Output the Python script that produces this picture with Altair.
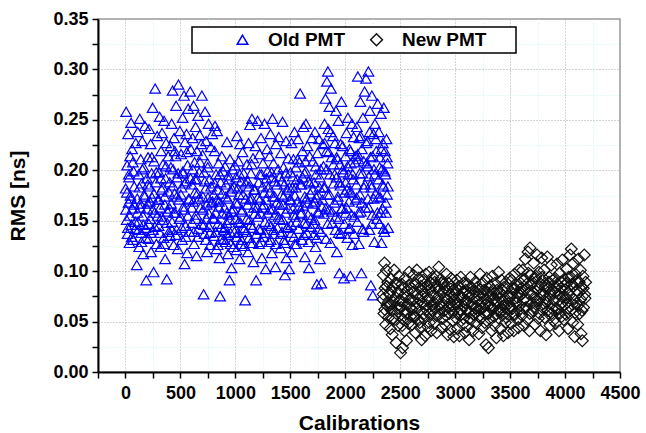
import altair as alt
import pandas as pd

# ---- Old PMT (blue triangles) ----
old_x = [
    2, 6, 11, 15, 19, 24, 28, 33, 37, 42, 46, 51, 55, 60, 64, 69, 74, 80, 87, 94,
    103, 107, 112, 116, 121, 125, 130, 134, 139, 143, 148, 152, 157, 161, 166, 171, 177, 183, 189, 195,
    202, 206, 211, 215, 220, 224, 229, 233, 238, 242, 247, 251, 256, 261, 265, 270, 276, 282, 289, 295,
    302, 306, 311, 315, 320, 324, 329, 333, 338, 342, 347, 351, 356, 361, 365, 370, 376, 382, 389, 395,
    402, 406, 411, 415, 420, 424, 429, 433, 438, 442, 447, 451, 456, 461, 465, 470, 476, 482, 489, 495,
    502, 506, 511, 515, 520, 524, 529, 533, 538, 542, 547, 551, 556, 561, 565, 570, 576, 582, 589, 595,
    602, 606, 611, 615, 620, 624, 629, 633, 638, 642, 647, 651, 656, 661, 665, 670, 676, 682, 689, 695,
    702, 706, 711, 715, 720, 724, 729, 733, 738, 742, 747, 751, 756, 761, 765, 770, 776, 782, 789, 795,
    802, 806, 811, 815, 820, 824, 829, 833, 838, 842, 847, 851, 856, 861, 865, 870, 876, 882, 889, 895,
    902, 906, 911, 915, 920, 924, 929, 933, 938, 942, 947, 951, 956, 961, 965, 970, 976, 982, 989, 995,
    1002, 1006, 1011, 1015, 1020, 1024, 1029, 1033, 1038, 1042, 1047, 1051, 1056, 1061, 1065, 1070, 1076, 1082, 1089, 1095,
    1102, 1106, 1111, 1115, 1120, 1124, 1129, 1133, 1138, 1142, 1147, 1151, 1156, 1161, 1165, 1170, 1176, 1182, 1189, 1195,
    1202, 1206, 1211, 1215, 1220, 1224, 1229, 1233, 1238, 1242, 1247, 1251, 1256, 1261, 1265, 1270, 1276, 1282, 1289, 1295,
    1302, 1306, 1311, 1315, 1320, 1324, 1329, 1333, 1338, 1342, 1347, 1351, 1356, 1361, 1365, 1370, 1376, 1382, 1389, 1395,
    1402, 1406, 1411, 1415, 1420, 1424, 1429, 1433, 1438, 1442, 1447, 1451, 1456, 1461, 1465, 1470, 1476, 1482, 1489, 1495,
    1502, 1506, 1511, 1515, 1520, 1524, 1529, 1533, 1538, 1542, 1547, 1551, 1556, 1561, 1565, 1570, 1576, 1582, 1589, 1595,
    1602, 1606, 1611, 1615, 1620, 1624, 1629, 1633, 1638, 1642, 1647, 1651, 1656, 1661, 1665, 1670, 1676, 1682, 1689, 1695,
    1702, 1706, 1711, 1715, 1720, 1724, 1729, 1733, 1738, 1742, 1747, 1751, 1756, 1761, 1765, 1770, 1776, 1782, 1789, 1795,
    1802, 1806, 1811, 1815, 1820, 1824, 1829, 1833, 1838, 1842, 1847, 1851, 1856, 1861, 1865, 1870, 1876, 1882, 1889, 1895,
    1902, 1906, 1911, 1915, 1920, 1924, 1929, 1933, 1938, 1942, 1947, 1951, 1956, 1961, 1965, 1970, 1976, 1982, 1989, 1995,
    2002, 2006, 2011, 2015, 2020, 2024, 2029, 2033, 2038, 2042, 2047, 2051, 2056, 2061, 2065, 2070, 2076, 2082, 2089, 2095,
    2102, 2106, 2111, 2115, 2120, 2124, 2129, 2133, 2138, 2142, 2147, 2151, 2156, 2161, 2165, 2170, 2176, 2182, 2189, 2195,
    2202, 2206, 2211, 2215, 2220, 2224, 2229, 2233, 2238, 2242, 2247, 2251, 2256, 2261, 2265, 2270, 2276, 2282, 2289, 2295,
    2302, 2306, 2311, 2315, 2320, 2324, 2329, 2333, 2338, 2342, 2347, 2351, 2356, 2361, 2365, 2370, 2375, 2380, 2385, 2390,
]
old_y = [
    .182, .258, .151, .205, .137, .236, .168, .193, .128, .214, .175, .247, .146, .221, .162, .131, .199, .184, .142, .227,
    .106, .172, .238, .149, .196, .124, .251, .163, .211, .138, .187, .229, .155, .117, .203, .176, .244, .143, .091, .192,
    .167, .213, .132, .241, .184, .152, .226, .119, .197, .173, .262, .141, .099, .209, .158, .281, .188, .127, .234, .171,
    .145, .198, .253, .163, .124, .219, .181, .237, .151, .206, .133, .249, .174, .112, .192, .227, .092, .159, .214, .139,
    .188, .135, .224, .167, .246, .149, .279, .201, .126, .232, .177, .158, .214, .264, .141, .193, .122, .285, .171, .239,
    .154, .216, .183, .131, .252, .197, .164, .274, .107, .228, .145, .189, .236, .118, .205, .261, .172, .139, .278, .221,
    .186, .148, .232, .169, .264, .127, .208, .191, .243, .156, .115, .219, .177, .254, .142, .198, .235, .163, .226, .274,
    .215, .161, .077, .198, .137, .258, .182, .229, .152, .119, .207, .173, .246, .144, .191, .126, .223, .168, .236, .153,
    .176, .135, .219, .244, .158, .196, .122, .239, .181, .147, .207, .169, .113, .075, .188, .132, .214, .157, .199, .141,
    .163, .204, .129, .186, .148, .228, .172, .117, .195, .156, .091, .211, .138, .179, .103, .159, .201, .124, .184, .205,
    .152, .193, .121, .234, .167, .138, .209, .176, .112, .226, .148, .189, .131, .161, .218, .143, .197, .125, .071, .172,
    .139, .206, .166, .119, .227, .184, .151, .245, .128, .197, .172, .251, .143, .212, .109, .181, .157, .224, .091, .163,
    .249, .154, .188, .127, .216, .171, .141, .232, .196, .113, .163, .207, .134, .178, .246, .149, .102, .192, .221, .158,
    .183, .129, .214, .161, .236, .145, .198, .118, .251, .174, .207, .137, .189, .156, .104, .226, .168, .143, .201, .233,
    .152, .194, .123, .217, .176, .139, .248, .166, .203, .131, .186, .096, .158, .229, .113, .181, .144, .212, .102, .171,
    .198, .146, .227, .119, .183, .162, .211, .134, .238, .175, .154, .203, .127, .191, .169, .231, .142, .208, .276, .157,
    .186, .131, .219, .165, .243, .148, .197, .114, .209, .246, .172, .138, .224, .156, .189, .103, .214, .177, .144, .232,
    .167, .209, .136, .188, .151, .238, .124, .196, .173, .087, .217, .159, .142, .231, .183, .112, .201, .088, .164, .226,
    .204, .157, .246, .183, .271, .132, .219, .288, .176, .298, .241, .161, .263, .196, .128, .281, .213, .148, .234, .187,
    .168, .227, .141, .259, .193, .119, .211, .174, .249, .152, .098, .206, .185, .137, .268, .162, .224, .198, .093, .178,
    .214, .158, .237, .181, .133, .252, .196, .169, .221, .143, .095, .207, .178, .246, .126, .191, .233, .154, .208, .171,
    .186, .243, .149, .293, .211, .127, .232, .176, .268, .159, .098, .221, .197, .252, .139, .183, .278, .163, .291, .207,
    .229, .172, .298, .194, .141, .259, .213, .086, .183, .274, .156, .076, .236, .201, .129, .246, .177, .219, .152, .266,
    .191, .238, .147, .213, .173, .256, .128, .201, .162, .227, .184, .262, .139, .219, .196, .158, .231, .176, .207, .143,
]

# Old PMT, further points in the dense core of the band
old_x2 = [
    4, 13, 22, 31, 40, 49, 58, 67, 77, 90,
    109, 118, 127, 136, 145, 154, 163, 174, 186, 198,
    204, 213, 222, 231, 240, 249, 258, 268, 279, 292,
    304, 313, 322, 331, 340, 349, 358, 368, 379, 392,
    404, 413, 422, 431, 440, 449, 458, 468, 479, 492,
    504, 513, 522, 531, 540, 549, 558, 568, 579, 592,
    604, 613, 622, 631, 640, 649, 658, 668, 679, 692,
    704, 713, 722, 731, 740, 749, 758, 768, 779, 792,
    804, 813, 822, 831, 840, 849, 858, 868, 879, 892,
    904, 913, 922, 931, 940, 949, 958, 968, 979, 992,
    1004, 1013, 1022, 1031, 1040, 1049, 1058, 1068, 1079, 1092,
    1104, 1113, 1122, 1131, 1140, 1149, 1158, 1168, 1179, 1192,
    1204, 1213, 1222, 1231, 1240, 1249, 1258, 1268, 1279, 1292,
    1304, 1313, 1322, 1331, 1340, 1349, 1358, 1368, 1379, 1392,
    1404, 1413, 1422, 1431, 1440, 1449, 1458, 1468, 1479, 1492,
    1504, 1513, 1522, 1531, 1540, 1549, 1558, 1568, 1579, 1592,
    1604, 1613, 1622, 1631, 1640, 1649, 1658, 1668, 1679, 1692,
    1704, 1713, 1722, 1731, 1740, 1749, 1758, 1768, 1779, 1792,
    1804, 1813, 1822, 1831, 1840, 1849, 1858, 1868, 1879, 1892,
    1904, 1913, 1922, 1931, 1940, 1949, 1958, 1968, 1979, 1992,
    2004, 2013, 2022, 2031, 2040, 2049, 2058, 2068, 2079, 2092,
    2104, 2113, 2122, 2131, 2140, 2149, 2158, 2168, 2179, 2192,
    2204, 2213, 2222, 2231, 2240, 2249, 2258, 2268, 2279, 2292,
    2304, 2313, 2322, 2331, 2340, 2349, 2358, 2368, 2378, 2388,
]
old_y2 = [
    .161, .178, .143, .196, .155, .172, .134, .208, .166, .149,
    .158, .141, .183, .167, .129, .201, .146, .174, .133, .162,
    .186, .147, .169, .138, .213, .161, .177, .144, .198, .155,
    .171, .138, .192, .154, .183, .127, .166, .204, .148, .179,
    .162, .203, .141, .185, .158, .219, .136, .174, .197, .152,
    .176, .143, .199, .161, .187, .134, .218, .155, .171, .192,
    .163, .201, .139, .178, .152, .191, .134, .172, .208, .147,
    .174, .146, .189, .131, .166, .203, .157, .138, .184, .169,
    .152, .187, .139, .171, .126, .164, .196, .144, .177, .131,
    .143, .174, .158, .136, .191, .151, .127, .182, .162, .139,
    .168, .134, .182, .149, .196, .127, .159, .176, .141, .187,
    .152, .189, .133, .171, .146, .206, .128, .163, .181, .137,
    .173, .142, .196, .157, .129, .184, .166, .138, .171, .199,
    .147, .178, .131, .193, .162, .141, .174, .127, .186, .154,
    .166, .137, .189, .151, .174, .128, .197, .143, .162, .183,
    .171, .138, .194, .156, .127, .183, .149, .211, .164, .186,
    .158, .193, .136, .174, .199, .147, .168, .129, .187, .153,
    .181, .147, .169, .204, .133, .176, .158, .193, .139, .171,
    .183, .227, .162, .201, .147, .218, .176, .238, .159, .206,
    .196, .154, .213, .171, .138, .188, .226, .162, .201, .147,
    .188, .163, .204, .142, .179, .219, .156, .196, .137, .214,
    .173, .216, .158, .197, .234, .168, .142, .209, .186, .227,
    .204, .163, .238, .186, .147, .214, .172, .196, .231, .158,
    .174, .203, .158, .221, .186, .142, .199, .168, .213, .184,
]

# ---- New PMT (black diamonds) ----
new_x = [
    2342, 2347, 2352, 2357, 2362, 2368, 2374, 2380, 2387, 2394,
    2403, 2409, 2415, 2421, 2427, 2433, 2439, 2445, 2451, 2457, 2463, 2469, 2475, 2481, 2488, 2495,
    2503, 2509, 2515, 2521, 2527, 2533, 2539, 2545, 2551, 2557, 2563, 2569, 2575, 2581, 2588, 2595,
    2603, 2609, 2615, 2621, 2627, 2633, 2639, 2645, 2651, 2657, 2663, 2669, 2675, 2681, 2688, 2695,
    2703, 2709, 2715, 2721, 2727, 2733, 2739, 2745, 2751, 2757, 2763, 2769, 2775, 2781, 2788, 2795,
    2803, 2809, 2815, 2821, 2827, 2833, 2839, 2845, 2851, 2857, 2863, 2869, 2875, 2881, 2888, 2895,
    2903, 2909, 2915, 2921, 2927, 2933, 2939, 2945, 2951, 2957, 2963, 2969, 2975, 2981, 2988, 2995,
    3003, 3009, 3015, 3021, 3027, 3033, 3039, 3045, 3051, 3057, 3063, 3069, 3075, 3081, 3088, 3095,
    3103, 3109, 3115, 3121, 3127, 3133, 3139, 3145, 3151, 3157, 3163, 3169, 3175, 3181, 3188, 3195,
    3203, 3209, 3215, 3221, 3227, 3233, 3239, 3245, 3251, 3257, 3263, 3269, 3275, 3281, 3288, 3295,
    3303, 3309, 3315, 3321, 3327, 3333, 3339, 3345, 3351, 3357, 3363, 3369, 3375, 3381, 3388, 3395,
    3403, 3409, 3415, 3421, 3427, 3433, 3439, 3445, 3451, 3457, 3463, 3469, 3475, 3481, 3488, 3495,
    3503, 3509, 3515, 3521, 3527, 3533, 3539, 3545, 3551, 3557, 3563, 3569, 3575, 3581, 3588, 3595,
    3603, 3609, 3615, 3621, 3627, 3633, 3639, 3645, 3651, 3657, 3663, 3669, 3675, 3681, 3688, 3695,
    3703, 3709, 3715, 3721, 3727, 3733, 3739, 3745, 3751, 3757, 3763, 3769, 3775, 3781, 3788, 3795,
    3803, 3809, 3815, 3821, 3827, 3833, 3839, 3845, 3851, 3857, 3863, 3869, 3875, 3881, 3888, 3895,
    3903, 3909, 3915, 3921, 3927, 3933, 3939, 3945, 3951, 3957, 3963, 3969, 3975, 3981, 3988, 3995,
    4003, 4009, 4015, 4021, 4027, 4033, 4039, 4045, 4051, 4057, 4063, 4069, 4075, 4081, 4088, 4095,
    4103, 4109, 4115, 4121, 4127, 4133, 4139, 4145, 4151, 4157, 4163, 4169, 4175, 4181, 4187,
]
new_y = [
    .072, .096, .058, .108, .083, .047, .101, .066, .089, .054,
    .078, .043, .092, .061, .037, .084, .069, .101, .052, .074, .029, .088, .063, .046, .095, .071,
    .019, .064, .087, .024, .052, .076, .041, .093, .058, .031, .081, .067, .048, .099, .072, .055,
    .083, .047, .071, .096, .056, .088, .039, .064, .101, .077, .051, .093, .061, .044, .085, .032,
    .068, .091, .053, .079, .036, .097, .062, .086, .045, .073, .099, .057, .082, .041, .066, .094,
    .076, .048, .089, .063, .095, .039, .071, .084, .104, .057, .067, .092, .044, .079, .053, .087,
    .061, .083, .046, .097, .071, .037, .088, .058, .076, .042, .093, .066, .051, .081, .035, .072,
    .054, .079, .091, .043, .068, .085, .036, .062, .094, .057, .074, .047, .088, .065, .039, .081,
    .071, .045, .087, .059, .032, .078, .094, .052, .066, .083, .041, .073, .057, .089, .063, .048,
    .084, .061, .038, .076, .097, .053, .069, .044, .088, .064, .081, .049, .072, .027, .093, .058,
    .024, .067, .085, .052, .078, .041, .095, .063, .072, .046, .088, .057, .034, .081, .069, .099,
    .062, .079, .043, .091, .056, .071, .036, .084, .064, .049, .089, .058, .075, .039, .068, .093,
    .074, .048, .091, .063, .082, .041, .097, .057, .069, .086, .052, .078, .044, .101, .066, .088,
    .083, .056, .101, .071, .046, .092, .112, .064, .087, .052, .119, .078, .041, .123, .096, .068,
    .089, .061, .108, .074, .047, .095, .067, .116, .082, .053, .099, .072, .041, .087, .113, .064,
    .077, .101, .054, .088, .037, .069, .114, .083, .058, .094, .046, .079, .106, .063, .091, .051,
    .071, .093, .048, .084, .107, .062, .077, .041, .098, .067, .089, .055, .111, .074, .052, .086,
    .081, .057, .102, .069, .043, .094, .076, .116, .061, .122, .087, .049, .108, .072, .035, .097,
    .068, .091, .047, .112, .079, .058, .101, .038, .084, .031, .095, .064, .116, .073, .089,
]

# New PMT, further points in the dense core of the band
new_x2 = [
    2345, 2360, 2377, 2391,
    2406, 2418, 2430, 2442, 2454, 2466, 2478, 2492,
    2506, 2518, 2530, 2542, 2554, 2566, 2578, 2592,
    2606, 2618, 2630, 2642, 2654, 2666, 2678, 2692,
    2706, 2718, 2730, 2742, 2754, 2766, 2778, 2792,
    2806, 2818, 2830, 2842, 2854, 2866, 2878, 2892,
    2906, 2918, 2930, 2942, 2954, 2966, 2978, 2992,
    3006, 3018, 3030, 3042, 3054, 3066, 3078, 3092,
    3106, 3118, 3130, 3142, 3154, 3166, 3178, 3192,
    3206, 3218, 3230, 3242, 3254, 3266, 3278, 3292,
    3306, 3318, 3330, 3342, 3354, 3366, 3378, 3392,
    3406, 3418, 3430, 3442, 3454, 3466, 3478, 3492,
    3506, 3518, 3530, 3542, 3554, 3566, 3578, 3592,
    3606, 3618, 3630, 3642, 3654, 3666, 3678, 3692,
    3706, 3718, 3730, 3742, 3754, 3766, 3778, 3792,
    3806, 3818, 3830, 3842, 3854, 3866, 3878, 3892,
    3906, 3918, 3930, 3942, 3954, 3966, 3978, 3992,
    4006, 4018, 4030, 4042, 4054, 4066, 4078, 4092,
    4106, 4118, 4130, 4142, 4154, 4166, 4178,
]
new_y2 = [
    .077, .062, .085, .069,
    .066, .081, .053, .072, .088, .058, .079, .063,
    .071, .046, .083, .061, .074, .052, .086, .064,
    .062, .079, .054, .087, .068, .073, .049, .081,
    .075, .058, .084, .066, .071, .049, .088, .061,
    .069, .083, .056, .074, .081, .062, .088, .067,
    .073, .056, .081, .064, .069, .085, .059, .077,
    .067, .082, .058, .074, .061, .079, .053, .069,
    .062, .076, .053, .084, .068, .057, .079, .065,
    .071, .055, .082, .063, .076, .058, .067, .079,
    .058, .074, .063, .081, .055, .069, .077, .061,
    .073, .059, .081, .066, .071, .054, .083, .063,
    .064, .078, .057, .083, .069, .074, .061, .079,
    .077, .091, .063, .082, .071, .098, .058, .086,
    .079, .064, .093, .071, .086, .058, .077, .094,
    .068, .084, .073, .061, .089, .076, .058, .081,
    .079, .063, .087, .071, .058, .083, .069, .092,
    .074, .088, .063, .081, .094, .067, .085, .059,
    .081, .066, .089, .072, .061, .083, .077,
]

series_names = ["Old PMT", "New PMT"]
series_colors = ["#0000ff", "#111111"]
series_shapes = ["triangle-up", "diamond"]
series_sizes = [112, 140]

x_ticks = [-250, 0, 250, 500, 750, 1000, 1250, 1500, 1750, 2000, 2250,
           2500, 2750, 3000, 3250, 3500, 3750, 4000, 4250, 4500]
y_ticks = [0.0, 0.025, 0.05, 0.075, 0.1, 0.125, 0.15, 0.175, 0.2,
           0.225, 0.25, 0.275, 0.3, 0.325, 0.35]

all_old_x = old_x + old_x2
all_old_y = old_y + old_y2
all_new_x = new_x + new_x2
all_new_y = new_y + new_y2

df = pd.DataFrame({
    "Calibrations": all_old_x + all_new_x,
    "RMS": all_old_y + all_new_y,
    "PMT": [series_names[0]] * len(all_old_x) + [series_names[1]] * len(all_new_x),
})

FONT = "Liberation Sans"
MAJOR_GRID = "#ababab"
MINOR_GRID = "#c9f3f3"
NBSP = "\u00a0"
ZWSP = "\u200b"  # keeps the trailing blanks from being trimmed

x_major = "datum.value % 500 === 0"
y_major = "abs(datum.value * 20 - round(datum.value * 20)) < 0.001"

legend = alt.Legend(
    title=NBSP,
    titleOrient="left",
    titleFontSize=1,
    titlePadding=38,
    orient="none",
    legendX=94,
    legendY=8,
    direction="horizontal",
    labelFont=FONT,
    labelFontSize=19,
    labelFontWeight="bold",
    labelColor="black",
    labelExpr="datum.value == 'New PMT' ? datum.label + '" + NBSP * 5 + ZWSP + "' : datum.label",
    symbolSize=60,
    symbolStrokeWidth=1.5,
    symbolOffset=0,
    labelOffset=16,
    columnPadding=21,
    padding=3,
    strokeColor="black",
    fillColor="white",
)

chart = alt.Chart(df).mark_point(
    filled=False, strokeWidth=1.2, opacity=1
).encode(
    x=alt.X(
        "Calibrations:Q",
        scale=alt.Scale(domain=[-250, 4500], nice=False, zero=False),
        axis=alt.Axis(
            title="Calibrations",
            values=x_ticks,
            labelExpr=f"{x_major} ? datum.label : ''",
            format="d",
            labelFlush=False,
            labelOverlap=False,
            gridColor={"condition": {"test": x_major, "value": MAJOR_GRID}, "value": MINOR_GRID},
        ),
    ),
    y=alt.Y(
        "RMS:Q",
        scale=alt.Scale(domain=[0, 0.35], nice=False, zero=True),
        axis=alt.Axis(
            title="RMS [ns]",
            values=y_ticks,
            labelExpr=f"{y_major} ? format(datum.value, '.2f') : ''",
            labelFlush=False,
            labelOverlap=False,
            gridColor={"condition": {"test": y_major, "value": MAJOR_GRID}, "value": MINOR_GRID},
        ),
    ),
    color=alt.Color("PMT:N", scale=alt.Scale(domain=series_names, range=series_colors), legend=legend),
    shape=alt.Shape("PMT:N", scale=alt.Scale(domain=series_names, range=series_shapes), legend=legend),
    size=alt.Size("PMT:N", scale=alt.Scale(domain=series_names, range=series_sizes), legend=None),
).properties(
    width=522,
    height=353,
    autosize=alt.AutoSizeParams(type="none"),
    padding={"left": 98, "top": 19, "right": 26, "bottom": 61},
).configure_view(
    stroke="#9a9a9a",
    strokeWidth=1.5,
).configure_axis(
    domainColor="black",
    domainWidth=2,
    tickColor="black",
    tickWidth=1.5,
    tickSize=6,
    labelFont=FONT,
    labelFontSize=18,
    labelFontWeight="bold",
    labelColor="black",
    titleFont=FONT,
    titleFontSize=21,
    titleFontWeight="bold",
    titleColor="black",
    grid=True,
    gridDash=[1, 2],
    gridWidth=1,
    gridOpacity=1,
).configure_axisX(
    labelPadding=6,
    titlePadding=10,
).configure_axisY(
    labelPadding=4,
    titlePadding=24,
).configure_legend(
    strokeWidth=1.5,
)

chart.save("out.html", embed_options={"renderer": "svg", "actions": False})
